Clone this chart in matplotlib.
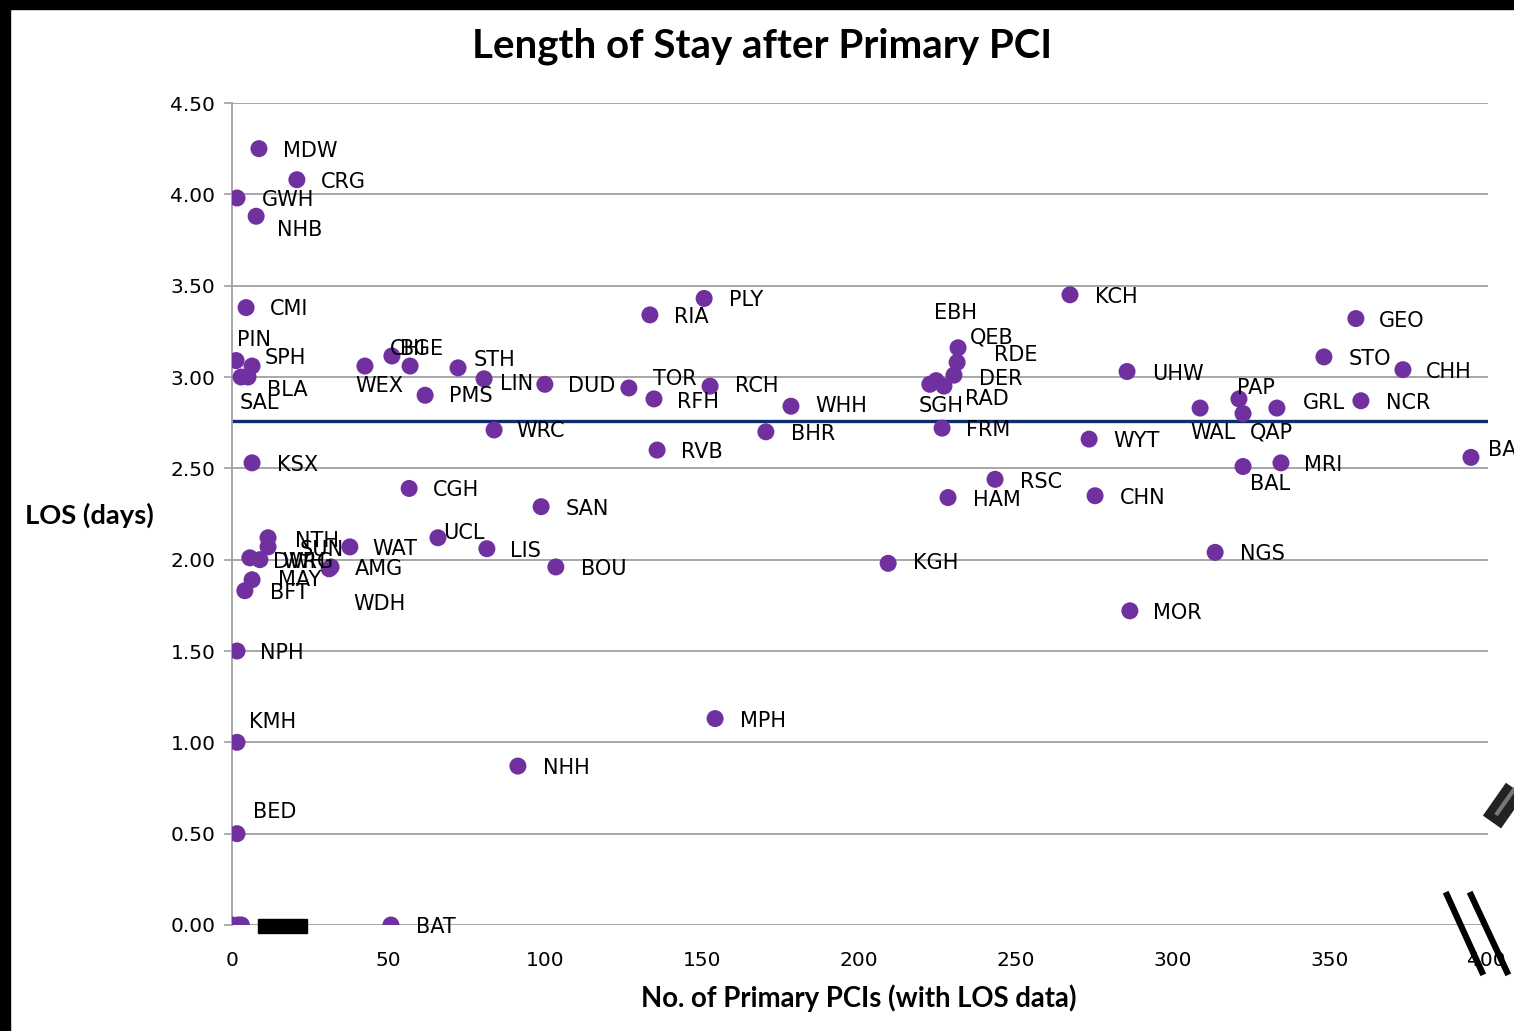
import matplotlib
matplotlib.use("Agg")
import matplotlib.pyplot as plt
from matplotlib.patches import Rectangle
from matplotlib.lines import Line2D

# ---------------- data ----------------
codes = ["MDW", "CRG", "GWH", "NHB", "CMI", "PIN", "SPH", "BLA", "SAL", "KSX",
         "WEX", "CHI", "BGE", "PMS", "STH", "LIN", "WRC", "DUD", "TOR", "RFH",
         "RCH", "RVB", "RIA", "PLY", "WHH", "BHR", "KCH", "QEB", "RDE", "DER",
         "EBH", "SGH", "RAD", "FRM", "HAM", "RSC", "WYT", "CHN", "UHW", "KGH",
         "MOR", "NGS", "WAL", "PAP", "QAP", "GRL", "BAL", "MRI", "NCR", "GEO",
         "STO", "CHH", "BAS", "CGH", "SAN", "UCL", "LIS", "BOU", "WAT", "AMG",
         "NTH", "SUN", "DWH", "WRG", "MAY", "BFT", "WDH", "NPH", "KMH", "BED",
         "NHH", "MPH", "BAT", "", "", ""]
n_pci = [8.6, 20.7, 1.6, 7.7, 4.5, 1.3, 6.4, 5.1, 2.9, 6.4,
         42.4, 51.0, 56.8, 61.6, 72.1, 80.4, 83.6, 99.8, 126.6, 134.6,
         152.5, 135.6, 133.3, 150.6, 178.3, 170.3, 267.3, 231.6, 231.3, 230.3,
         224.6, 222.6, 227.1, 226.5, 228.4, 243.4, 273.4, 275.3, 285.5, 209.3,
         286.4, 313.6, 308.8, 321.2, 322.5, 333.3, 322.5, 334.6, 360.1, 358.5,
         348.3, 373.5, 395.2, 56.5, 98.6, 65.7, 81.3, 103.3, 37.6, 31.6,
         11.5, 11.5, 5.7, 8.9, 6.4, 4.1, 31.0, 1.6, 1.6, 1.6,
         91.2, 154.1, 50.7, 0.0, 2.0, 3.0]
los = [4.25, 4.08, 3.98, 3.88, 3.38, 3.09, 3.06, 3.00, 3.00, 2.53,
       3.06, 3.115, 3.06, 2.90, 3.05, 2.99, 2.71, 2.96, 2.94, 2.88,
       2.95, 2.60, 3.34, 3.43, 2.84, 2.70, 3.45, 3.16, 3.08, 3.01,
       2.98, 2.96, 2.95, 2.72, 2.34, 2.44, 2.66, 2.35, 3.03, 1.98,
       1.72, 2.04, 2.83, 2.88, 2.80, 2.83, 2.51, 2.53, 2.87, 3.32,
       3.11, 3.04, 2.56, 2.39, 2.29, 2.12, 2.06, 1.96, 2.07, 1.96,
       2.12, 2.07, 2.01, 2.00, 1.89, 1.83, 1.95, 1.50, 1.00, 0.50,
       0.87, 1.13, 0.00, 0.00, 0.00, 0.00]
mean_los = 2.76

x_ticks = [0, 50, 100, 150, 200, 250, 300, 350, 400]
y_ticks = [0.0, 0.5, 1.0, 1.5, 2.0, 2.5, 3.0, 3.5, 4.0, 4.5]

title = "Length of Stay after Primary PCI"
x_label = "No. of Primary PCIs (with LOS data)"
y_label = "LOS (days)"

# label offsets in pixels (layout only)
label_offsets = [(24, -2), (24, -2), (25, -2), (21, -14), (24, -1), (1, 21), (13, 8), (19, -13), (-1, -26), (25, -2),
                 (-10, -20), (-2, 7), (-10, 17), (24, -1), (16, 8), (16, -5), (22, -1), (23, -2), (24, 9), (23, -3),
                 (25, 0), (24, -2), (24, -2), (25, -2), (24, 0), (25, -2), (25, -2), (12, 10), (37, 7), (25, -4),
                 (-2, 68), (-11, -22), (21, -13), (24, -2), (25, -2), (25, -3), (24, -2), (25, -2), (25, -2), (25, 0),
                 (23, -2), (25, -2), (-10, -25), (-2, 11), (7, -19), (26, 5), (7, -17), (23, -2), (25, -2), (23, -2),
                 (25, -2), (23, -2), (17, 7), (24, -2), (25, -2), (5, 5), (23, -2), (25, -2), (22, -2), (24, -2),
                 (27, -3), (32, -3), (23, -4), (22, -2), (26, 0), (25, -2), (24, -35), (23, -2), (12, 20), (16, 22),
                 (25, -2), (25, -2), (25, -2), (0, 0), (0, 0), (0, 0)]

W, H = 1514, 1031
fig = plt.figure(figsize=(W / 100, H / 100), dpi=100)
fig.patch.set_facecolor("white")

ax = fig.add_axes([232 / W, 1 - 925 / H, (1488 - 232) / W, (925 - 103) / H])
ax.set_xlim(0, (1488 - 232) / 3.135)
ax.set_ylim(0, 4.5)

grid_c = "#A0A0A0"
for yv in y_ticks:
    ax.axhline(yv, color=grid_c, lw=1.3, zorder=1)
for s in ["top", "right", "bottom"]:
    ax.spines[s].set_visible(False)
ax.spines["left"].set_color(grid_c)
ax.spines["left"].set_linewidth(1.3)

ax.set_yticks(y_ticks)
ax.set_yticklabels([f"{v:.2f}" for v in y_ticks])
ax.set_xticks(x_ticks)
ax.set_xticklabels([str(v) for v in x_ticks])
ax.tick_params(axis="y", length=6, width=1.2, color=grid_c, pad=6, labelsize=14.5, labelcolor="#000000")
ax.tick_params(axis="x", length=0, pad=18.5, labelsize=14.5, labelcolor="#000000")

ax.axhline(mean_los, color="#0F2D6B", lw=2.4, zorder=2)

ax.scatter(n_pci, los, s=150, color="#7030A0", edgecolors="none", zorder=3)

for code, xv, yv, (dx, dy) in zip(codes, n_pci, los, label_offsets):
    if code:
        ax.annotate(code, (xv, yv), xytext=(dx, dy), textcoords="offset pixels",
                    ha="left", va="center", fontsize=15, color="#000000",
                    annotation_clip=False, zorder=4)

fig.text(762 / W, 1 - 46 / H, title, ha="center", va="center",
         fontsize=29, fontweight="bold", family="Lato")
fig.text(25 / W, 1 - 515 / H, y_label, ha="left", va="center",
         fontsize=19.7, fontweight="bold", family="Lato")
fig.text(859 / W, 1 - 998 / H, x_label, ha="center", va="center",
         fontsize=19.8, fontweight="bold", family="Lato")

# black frame at top and left
fig.add_artist(Rectangle((0, 1 - 9 / H), 1, 9 / H, transform=fig.transFigure,
                         color="black", zorder=10))
fig.add_artist(Rectangle((0, 0), 10 / W, 1, transform=fig.transFigure,
                         color="black", zorder=10))
# redaction box on x axis
fig.add_artist(Rectangle((258 / W, 1 - 933 / H), 49 / W, 14 / H, transform=fig.transFigure,
                         color="black", zorder=10))
# break marks
for (x0, y0, x1, y1) in [(1447, 895, 1482, 972), (1471, 895, 1507, 972)]:
    fig.add_artist(Line2D([x0 / W, x1 / W], [1 - y0 / H, 1 - y1 / H], transform=fig.transFigure,
                          color="black", lw=4.5, zorder=10))
# pen icon
fig.add_artist(Line2D([1492 / W, 1520 / W], [1 - 822 / H, 1 - 782 / H], transform=fig.transFigure,
                      color="#222222", lw=16, solid_capstyle="butt", zorder=10))
fig.add_artist(Line2D([1496 / W, 1520 / W], [1 - 815 / H, 1 - 781 / H], transform=fig.transFigure,
                      color="#777777", lw=3, solid_capstyle="butt", zorder=11))

fig.savefig("out.png", dpi=100)
